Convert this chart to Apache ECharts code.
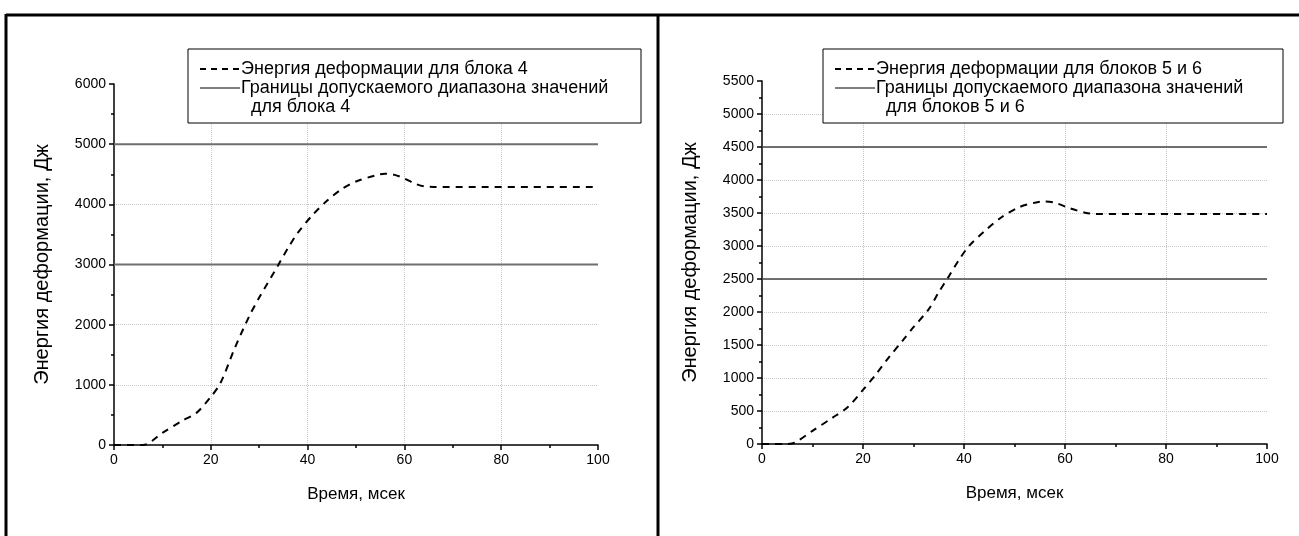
<!DOCTYPE html>
<html><head><meta charset="utf-8">
<script src="https://cdn.jsdelivr.net/npm/echarts@6/dist/echarts.min.js"></script>
<style>html,body{margin:0;padding:0;background:#fff}#c{width:1299px;height:536px}</style>
</head><body><div id="c"></div>
<script>
// Left panel: block 4
const timeL = [0, 4, 6, 10, 14, 17, 20, 22, 25, 28, 30, 34, 36, 38, 41, 44, 47, 50, 54, 56, 58, 60, 62, 64, 66, 100];
const energyL = [0, 0, 0, 200, 400, 530, 800, 1030, 1620, 2150, 2450, 3000, 3280, 3530, 3820, 4060, 4250, 4380, 4480, 4510, 4490, 4430, 4350, 4300, 4290, 4290];
const boundsL = [3000, 5000];
// Right panel: blocks 5 and 6
const timeR = [0, 5, 6.5, 10, 14, 17, 20, 22.5, 25, 28, 30, 33, 35, 37, 39, 41, 44, 47.5, 51, 54, 56, 58, 61, 64, 66, 100];
const energyR = [0, 0, 20, 200, 400, 560, 820, 1050, 1300, 1580, 1770, 2040, 2300, 2540, 2790, 3000, 3220, 3440, 3590, 3655, 3675, 3655, 3570, 3505, 3485, 3485];
const boundsR = [2500, 4500];
const xRange = [0, 100];
const namesL = ['Энергия деформации для блока 4', 'Границы допускаемого диапазона значений', 'для блока 4'];
const namesR = ['Энергия деформации для блоков 5 и 6', 'Границы допускаемого диапазона значений', 'для блоков 5 и 6'];
const xTitle = 'Время, мсек';
const yTitle = 'Энергия деформации, Дж';

const FONT = '"Liberation Sans", Arial, sans-serif';
const chart = echarts.init(document.getElementById('c'));

function xAxis(gi) {
  return {
    type: 'value', gridIndex: gi, min: 0, max: 100, interval: 20,
    name: xTitle, nameLocation: 'middle', nameGap: 41,
    nameTextStyle: {fontFamily: FONT, fontSize: 17, color: '#000'},
    axisLine: {show: true, onZero: false, lineStyle: {color: '#000', width: 1.5}},
    axisTick: {show: true, length: 5, lineStyle: {color: '#000', width: 1.5}},
    minorTick: {show: true, splitNumber: 2, length: 3, lineStyle: {color: '#000', width: 1.5}},
    axisLabel: {fontFamily: FONT, fontSize: 14, color: '#000', margin: 8, formatter: v => String(v)},
    splitLine: {show: true, showMinLine: false, showMaxLine: false, lineStyle: {color: '#c8c8c8', type: 'dotted', width: 1}}
  };
}
function yAxis(gi, max, interval) {
  return {
    type: 'value', gridIndex: gi, min: 0, max: max, interval: interval,
    name: yTitle, nameLocation: 'middle', nameGap: 62,
    nameTextStyle: {fontFamily: FONT, fontSize: 20, color: '#000'},
    axisLine: {show: true, lineStyle: {color: '#000', width: 1.5}},
    axisTick: {show: true, length: 5, lineStyle: {color: '#000', width: 1.5}},
    minorTick: {show: true, splitNumber: 2, length: 3, lineStyle: {color: '#000', width: 1.5}},
    axisLabel: {fontFamily: FONT, fontSize: 14, color: '#000', margin: 8, formatter: v => String(v)},
    splitLine: {show: true, showMinLine: false, showMaxLine: false, lineStyle: {color: '#c8c8c8', type: 'dotted', width: 1}}
  };
}
function pairs(xs, ys) { return xs.map((x, i) => [x, ys[i]]); }
function boundSeries(gi, vals, names, color, width) {
  return vals.map(v => ({
    type: 'line', name: names[1], xAxisIndex: gi, yAxisIndex: gi, symbol: 'none', silent: true,
    data: [[xRange[0], v], [xRange[1], v]],
    lineStyle: {color: color, width: width, type: 'solid'}
  }));
}
function legendGraphic(x0, y0, w, h, names) {
  const t = (x, y, s) => ({type: 'text', x: x, y: y, z: 101, style: {text: s, fontFamily: FONT, fontSize: 18, fill: '#000', textVerticalAlign: 'middle'}});
  return [
    {type: 'rect', shape: {x: x0, y: y0, width: w, height: h}, style: {fill: '#fff', stroke: '#000', lineWidth: 1}, z: 100},
    {type: 'line', shape: {x1: x0 + 12, y1: y0 + 20, x2: x0 + 52, y2: y0 + 20}, style: {stroke: '#000', lineWidth: 2, lineDash: [6, 5]}, z: 101},
    {type: 'line', shape: {x1: x0 + 12, y1: y0 + 39, x2: x0 + 52, y2: y0 + 39}, style: {stroke: '#000', lineWidth: 1}, z: 101},
    t(x0 + 53, y0 + 20, names[0]),
    t(x0 + 53, y0 + 39, names[1]),
    t(x0 + 63, y0 + 58, names[2])
  ];
}

const option = {
  animation: false,
  backgroundColor: '#fff',
  grid: [
    {left: 114, right: 1299 - 598, top: 84, bottom: 536 - 445},
    {left: 762, right: 1299 - 1267, top: 81, bottom: 536 - 444}
  ],
  xAxis: [xAxis(0), xAxis(1)],
  yAxis: [yAxis(0, 6000, 1000), yAxis(1, 5500, 500)],
  series: [
    ...boundSeries(0, boundsL, namesL, '#6e6e6e', 2),
    {type: 'line', name: namesL[0], xAxisIndex: 0, yAxisIndex: 0, symbol: 'none', smooth: 0.3,
     data: pairs(timeL, energyL), lineStyle: {color: '#000', width: 2, type: [7, 6]}},
    ...boundSeries(1, boundsR, namesR, '#444', 1.5),
    {type: 'line', name: namesR[0], xAxisIndex: 1, yAxisIndex: 1, symbol: 'none', smooth: 0.3,
     data: pairs(timeR, energyR), lineStyle: {color: '#000', width: 2, type: [7, 6]}}
  ],
  graphic: [
    {type: 'line', shape: {x1: 6, y1: 15, x2: 1299, y2: 15}, style: {stroke: '#000', lineWidth: 3}},
    {type: 'line', shape: {x1: 6, y1: 14, x2: 6, y2: 536}, style: {stroke: '#000', lineWidth: 3}},
    {type: 'line', shape: {x1: 658, y1: 14, x2: 658, y2: 536}, style: {stroke: '#000', lineWidth: 3}},
    ...legendGraphic(188, 49, 453, 74, namesL),
    ...legendGraphic(823, 49, 460, 74, namesR)
  ]
};
chart.setOption(option);
</script></body></html>
